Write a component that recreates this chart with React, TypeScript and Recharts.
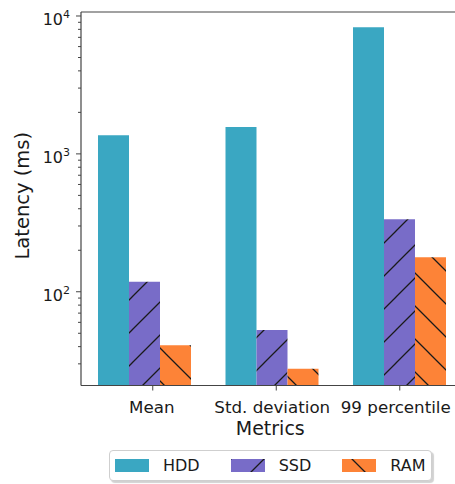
import { BarChart, Bar, XAxis, YAxis, Label, ReferenceLine } from 'recharts';

const metrics = ['Mean', 'Std. deviation', '99 percentile'];
const hddLatency = [1366, 1569, 8280];
const ssdLatency = [118, 52.8, 335];
const ramLatency = [40.9, 27.7, 178];
const yTickValues = [
  30, 40, 50, 60, 70, 80, 90,
  100, 200, 300, 400, 500, 600, 700, 800, 900,
  1000, 2000, 3000, 4000, 5000, 6000, 7000, 8000, 9000,
  10000,
];
const yDomain = [20.9, 10690];

const HDD = '#3aa7c2';
const SSD = '#786cc8';
const RAM = '#fd8337';
const AXIS = '#444';
const TEXT = '#1a1a1a';
const FONT = 'DejaVu Sans';

const data = metrics.map((metric, i) => ({
  metric,
  hdd: hddLatency[i],
  ssd: ssdLatency[i],
  ram: ramLatency[i],
}));

const legendItems = [
  { name: 'HDD', fill: HDD },
  { name: 'SSD', fill: 'url(#hatchSsd)' },
  { name: 'RAM', fill: 'url(#hatchRam)' },
];

// matplotlib put the tick marks a little off the group centres
const tickShift = [8, 4, 0];
const labelShift = [7, 0, -4];

function LogTick({ x, y, payload }: any) {
  const v = payload.value;
  const exp = Math.round(Math.log10(v));
  const major = Math.abs(Math.pow(10, exp) - v) < 1e-6;
  return (
    <g>
      <line x1={x - (major ? 5 : 3)} x2={x} y1={y} y2={y} stroke={AXIS} strokeWidth={1} />
      {major && (
        <text x={x - 11} y={y + 9} textAnchor="end" fontFamily={FONT} fontSize={16} fill={TEXT}>
          10<tspan dy={-7} fontSize={11}>{exp}</tspan>
        </text>
      )}
    </g>
  );
}

function MetricTick({ x, y, payload, index }: any) {
  return (
    <g>
      <line x1={x + tickShift[index]} x2={x + tickShift[index]} y1={y} y2={y + 5} stroke={AXIS} strokeWidth={1} />
      <text x={x + labelShift[index]} y={y + 27.5} textAnchor="middle" fontFamily={FONT} fontSize={16.7} fill={TEXT}>
        {payload.value}
      </text>
    </g>
  );
}

function Hatches() {
  return (
    <defs>
      <pattern id="hatchSsd" patternUnits="userSpaceOnUse" width={33} height={33}>
        <rect width={33} height={33} fill={SSD} />
        <path d="M0,33 L33,0 M-3,3 L3,-3 M30,36 L36,30" stroke="#1a1a1a" strokeWidth={1.3} />
      </pattern>
      <pattern id="hatchRam" patternUnits="userSpaceOnUse" y={-10} width={33} height={33}>
        <rect width={33} height={33} fill={RAM} />
        <path d="M0,0 L33,33 M-3,30 L3,36 M30,-3 L36,3" stroke="#1a1a1a" strokeWidth={1.3} />
      </pattern>
    </defs>
  );
}

export default function App() {
  return (
    <div style={{ position: 'absolute', left: 0, top: 0, width: 455, height: 484, overflow: 'hidden', background: '#fff' }}>
      <BarChart
        width={470}
        height={484}
        data={data}
        margin={{ top: 12, right: 6.5, bottom: 0, left: 0 }}
        barCategoryGap={17}
        barGap={0}
      >
        <Hatches />
        <XAxis
          dataKey="metric"
          height={98.5}
          tickSize={0}
          tickMargin={0}
          tickLine={false}
          interval={0}
          tick={<MetricTick />}
          axisLine={{ stroke: AXIS, strokeWidth: 1.2 }}
        >
          <Label
            content={({ viewBox }: any) => (
              <text
                x={viewBox.x + viewBox.width / 2 - 2}
                y={viewBox.y + 49}
                textAnchor="middle"
                fontFamily={FONT}
                fontSize={19}
                fill={TEXT}
              >
                Metrics
              </text>
            )}
          />
        </XAxis>
        <YAxis
          scale="log"
          domain={yDomain}
          allowDataOverflow
          ticks={yTickValues}
          interval={0}
          width={81}
          tickSize={0}
          tickMargin={0}
          tickLine={false}
          tick={<LogTick />}
          axisLine={{ stroke: AXIS, strokeWidth: 1.2 }}
        >
          <Label
            content={({ viewBox }: any) => {
              const cx = 29;
              const cy = viewBox.y + viewBox.height / 2 - 3;
              return (
                <text
                  x={cx}
                  y={cy}
                  transform={`rotate(-90 ${cx} ${cy})`}
                  textAnchor="middle"
                  fontFamily={FONT}
                  fontSize={19.5}
                  fill={TEXT}
                >
                  Latency (ms)
                </text>
              );
            }}
          />
        </YAxis>
        <ReferenceLine y={yDomain[1]} stroke={AXIS} strokeWidth={1.2} />
        <Bar dataKey="hdd" name="HDD" fill={HDD} isAnimationActive={false} />
        <Bar dataKey="ssd" name="SSD" fill="url(#hatchSsd)" isAnimationActive={false} />
        <Bar dataKey="ram" name="RAM" fill="url(#hatchRam)" isAnimationActive={false} />
      </BarChart>
      <div
        style={{
          position: 'absolute',
          left: 109,
          top: 450,
          width: 323,
          height: 31,
          boxSizing: 'border-box',
          border: '1px solid #cfcfcf',
          borderRadius: 4,
          boxShadow: '2px 2px 1px rgba(0,0,0,0.18)',
          background: '#fff',
          display: 'flex',
          alignItems: 'center',
          paddingLeft: 5,
          fontFamily: FONT,
          fontSize: 16,
          color: TEXT,
        }}
      >
        {legendItems.map((item) => (
          <div key={item.name} style={{ display: 'flex', alignItems: 'center', marginRight: 31 }}>
            <svg width={34} height={13} style={{ marginRight: 14 }}>
              <rect width={34} height={13} fill={item.fill} />
            </svg>
            <span>{item.name}</span>
          </div>
        ))}
      </div>
    </div>
  );
}
